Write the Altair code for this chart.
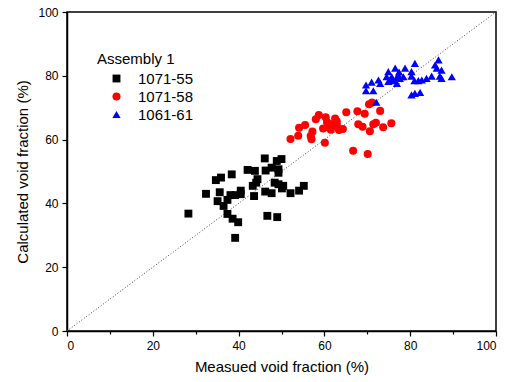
import altair as alt
import pandas as pd

series_names = ["1071-55", "1071-58", "1061-61"]
series_colors = ["#000000", "#ff0000", "#0000ff"]
series_shapes = ["square", "circle", "triangle-up"]
series_sizes = [62, 68, 140]

x_55 = [46.1, 48.9, 50.0, 47.7, 46.3, 49.3, 49.3, 42.1, 43.8, 38.4, 35.9, 34.7, 44.4, 44.1,
        43.3, 48.4, 49.3, 50.4, 50.1, 55.2, 54.1, 52.1, 46.2, 47.7, 43.6, 40.5, 40.5, 39.2,
        38.1, 37.4, 35.6, 32.4, 35.1, 36.5, 28.3, 37.4, 38.6, 39.9, 46.7, 49.0, 39.2]
y_55 = [54.1, 53.3, 53.9, 51.2, 50.3, 50.7, 49.6, 50.5, 50.2, 49.1, 48.1, 47.3, 47.6, 46.5,
        45.5, 46.5, 46.0, 45.5, 44.7, 45.5, 44.0, 43.2, 43.7, 43.2, 42.3, 44.0, 42.9, 42.6,
        42.6, 41.1, 43.5, 43.0, 40.7, 39.2, 36.8, 36.7, 35.2, 34.1, 36.1, 35.7, 29.2]

x_58 = [70.4, 71.1, 65.1, 67.7, 69.4, 73.0, 58.7, 58.0, 60.3, 62.5, 62.9, 60.6, 61.3, 62.0,
        60.8, 62.9, 61.5, 59.7, 57.2, 55.5, 54.1, 53.9, 52.1, 56.8, 57.0, 60.1, 63.4, 64.3,
        67.9, 68.9, 70.6, 71.4, 72.0, 73.7, 75.6, 66.7, 70.1]
y_58 = [71.1, 71.6, 68.6, 68.9, 68.1, 69.0, 67.7, 66.4, 67.0, 66.6, 65.7, 65.5, 64.9, 64.3,
        63.9, 64.6, 63.1, 63.5, 62.5, 64.6, 63.7, 61.2, 60.2, 61.1, 60.1, 59.0, 63.0, 63.3,
        64.8, 64.0, 62.6, 64.8, 65.3, 63.9, 65.1, 56.5, 55.5]

x_61 = [69.7, 69.7, 71.4, 71.0, 72.6, 73.0, 74.9, 74.5, 75.7, 74.9, 76.1, 76.9, 77.2, 76.5,
        76.9, 78.8, 78.4, 80.3, 81.1, 80.3, 81.0, 81.9, 82.7, 83.8, 85.0, 86.2, 86.6, 85.8,
        86.9, 89.7, 80.3, 81.1, 82.3, 72.1, 77.6, 75.3, 77.4, 87.3, 87.3]
y_61 = [77.1, 75.3, 75.3, 78.0, 78.7, 77.6, 81.3, 79.7, 79.7, 78.2, 78.5, 79.2, 80.3, 82.4,
        77.6, 82.4, 79.7, 81.3, 83.9, 79.9, 78.5, 78.5, 78.7, 79.2, 79.9, 82.4, 85.0, 83.4,
        79.9, 79.7, 74.0, 74.5, 74.8, 71.7, 79.2, 78.7, 81.2, 81.8, 79.2]

diag_x = [0, 100]
diag_y = [0, 100]
tick_values = [0, 10, 20, 30, 40, 50, 60, 70, 80, 90, 100]

rows = []
for name, xs, ys in [(series_names[0], x_55, y_55), (series_names[1], x_58, y_58),
                     (series_names[2], x_61, y_61)]:
    for a, b in zip(xs, ys):
        rows.append({"measured": a, "calculated": b, "series": name})
df = pd.DataFrame(rows)
df_diag = pd.DataFrame({"measured": diag_x, "calculated": diag_y})

FONT = "Liberation Sans"

def make_axis(title, pad):
    return alt.Axis(
        title=title,
        values=tick_values,
        labelExpr="datum.value % 20 == 0 ? datum.label : ''",
        grid=False,
        domainColor="black",
        domainWidth=1.5,
        tickColor="black",
        tickWidth=1.2,
        tickSize={"condition": {"test": "datum.value % 20 != 0", "value": 3}, "value": 5},
        labelFont=FONT,
        labelFontSize=12,
        labelColor="black",
        labelPadding=4,
        titleFont=FONT,
        titleFontSize=15,
        titleFontWeight="normal",
        titleColor="black",
        titlePadding=pad,
    )

xscale = alt.Scale(domain=[0, 100], nice=False, zero=False)
yscale = alt.Scale(domain=[0, 100], nice=False, zero=False)

diag = alt.Chart(df_diag).mark_line(
    color="#444444", strokeWidth=1, strokeDash=[1, 2]
).encode(
    x=alt.X("measured:Q", scale=xscale, axis=make_axis("Measued void fraction (%)", 8)),
    y=alt.Y("calculated:Q", scale=yscale, axis=make_axis("Calculated void fraction (%)", 7)),
)

points = alt.Chart(df).mark_point(filled=True, opacity=1).encode(
    x=alt.X("measured:Q", scale=xscale),
    y=alt.Y("calculated:Q", scale=yscale),
    color=alt.Color(
        "series:N",
        scale=alt.Scale(domain=series_names, range=series_colors),
        legend=alt.Legend(
            title="Assembly 1",
            orient="none",
            legendX=30,
            legendY=40,
            titleFont=FONT,
            titleFontSize=15,
            titleFontWeight="normal",
            titleColor="black",
            titlePadding=4,
            labelFont=FONT,
            labelFontSize=15,
            labelColor="black",
            symbolOffset=12,
            labelOffset=14,
            rowPadding=2,
            symbolSize=90,
            symbolStrokeWidth=0,
        ),
    ),
    shape=alt.Shape(
        "series:N",
        scale=alt.Scale(domain=series_names, range=series_shapes),
        legend=None,
    ),
    size=alt.Size(
        "series:N",
        scale=alt.Scale(domain=series_names, range=series_sizes),
        legend=None,
    ),
    order=alt.Order("series_order:Q"),
).transform_calculate(
    series_order="indexof(['1071-55','1071-58','1061-61'], datum.series)"
)

chart = alt.layer(diag, points).properties(
    width=429,
    height=319,
    padding={"left": 67, "top": 12, "right": 17, "bottom": 51},
    autosize="none",
    background="white",
).configure_view(
    stroke="black", strokeWidth=1.5
)

chart.save("out.html", embed_options={"renderer": "svg", "actions": False})
